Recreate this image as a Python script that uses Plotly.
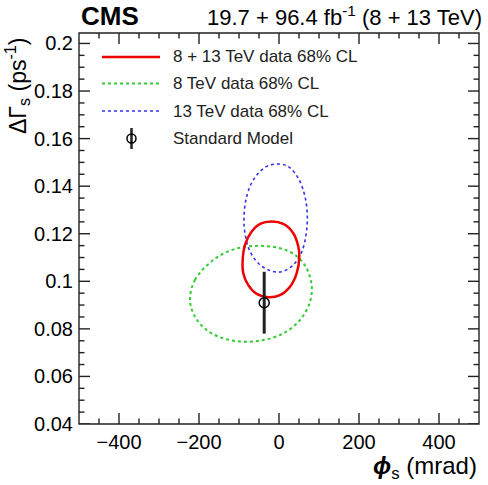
import plotly.graph_objects as go

# ---- data (phi_s in mrad, DeltaGamma_s in ps^-1) ----
comb_phi = [-18.3, 10.8, 35.8, 48.3, 50.8, 44.3, 27.5, 2.5, -26.8, -55.8, -76.8, -89.3, -90.8, -85.0, -68.3, -47.5, -18.3]
comb_dg = [0.1251, 0.1241, 0.1202, 0.1146, 0.1103, 0.1034, 0.0977, 0.0942, 0.0933, 0.0947, 0.0984, 0.1034, 0.1090, 0.1153, 0.1209, 0.1241, 0.1251]

run1_phi = [-222.5, -210, -164, -122.5, -81, -31, 11, 44, 69, 82, 76, 52.5, 11, -39, -89, -139, -181, -210, -222.5]
run1_dg = [0.0921, 0.1006, 0.1090, 0.1129, 0.1146, 0.1148, 0.1135, 0.1106, 0.1055, 0.0977, 0.0907, 0.0837, 0.0781, 0.0753, 0.0746, 0.0760, 0.0795, 0.0851, 0.0921]

run2_phi = [-5.8, 23.3, 48.3, 65, 70.8, 67.5, 56.8, 35.8, 6.8, -22.5, -51.8, -74.3, -85, -87.5, -80.8, -64.3, -35, -5.8]
run2_dg = [0.1493, 0.1482, 0.1433, 0.1356, 0.1272, 0.1195, 0.1124, 0.1069, 0.1040, 0.1045, 0.1076, 0.1132, 0.1202, 0.1272, 0.1356, 0.1426, 0.1479, 0.1493]

sm_phi = [-37.0]
sm_dg = [0.091]
sm_dg_err = [0.013]

legend_labels = ["8 + 13 TeV data 68% CL", "8 TeV data 68% CL", "13 TeV data 68% CL", "Standard Model"]

x_tickvals = [-400, -200, 0, 200, 400]
x_ticktext = ["\u2212400", "\u2212200", "0", "200", "400"]
y_tickvals = [0.04, 0.06, 0.08, 0.1, 0.12, 0.14, 0.16, 0.18, 0.2]
y_ticktext = ["0.04", "0.06", "0.08", "0.1", "0.12", "0.14", "0.16", "0.18", "0.2"]

FONT = "Liberation Sans, Arial, Helvetica, sans-serif"
AXC = "#222222"

fig = go.Figure()
fig.add_trace(go.Scatter(x=run1_phi, y=run1_dg, mode="lines",
                         line=dict(color="#33cc33", width=2, dash="dot", shape="spline", smoothing=1.0),
                         showlegend=False))
fig.add_trace(go.Scatter(x=run2_phi, y=run2_dg, mode="lines",
                         line=dict(color="#3333ee", width=1.6, dash="dot", shape="spline", smoothing=1.0),
                         showlegend=False))
fig.add_trace(go.Scatter(x=comb_phi, y=comb_dg, mode="lines",
                         line=dict(color="#ee0000", width=2.5, shape="spline", smoothing=1.0),
                         showlegend=False))
fig.add_trace(go.Scatter(x=sm_phi, y=sm_dg, mode="markers",
                         marker=dict(symbol="circle-open", size=10, color="black", line=dict(width=1.5)),
                         error_y=dict(type="data", array=sm_dg_err, color="#222222", thickness=3, width=0),
                         showlegend=False))

# ---- in-frame legend (paper coordinates) ----
def px(x):
    return (x - 79) / 400.0

def py(y):
    return (424 - y) / 391.0

rows = [57, 83.5, 111, 138.5]
styles = [dict(color="#ee0000", width=2.5),
          dict(color="#33cc33", width=2, dash="dot"),
          dict(color="#3333ee", width=1.6, dash="dot")]
shapes = []
for r, st in zip(rows[:3], styles):
    shapes.append(dict(type="line", xref="paper", yref="paper",
                       x0=px(102), x1=px(160), y0=py(r), y1=py(r), line=st))
shapes.append(dict(type="line", xref="paper", yref="paper",
                   x0=px(131.5), x1=px(131.5), y0=py(128), y1=py(149),
                   line=dict(color="#222222", width=2.5)))
shapes.append(dict(type="circle", xref="paper", yref="paper",
                   x0=px(127), x1=px(136), y0=py(134), y1=py(143),
                   line=dict(color="black", width=1.5), fillcolor="rgba(0,0,0,0)"))
# frame
shapes.append(dict(type="rect", xref="paper", yref="paper", x0=0, x1=1, y0=0, y1=1,
                   line=dict(color=AXC, width=1.4), fillcolor="rgba(0,0,0,0)", layer="above"))

# tick marks (ROOT style: inside, on all four sides)
TW = 1.4
x_major_len = 11 / 391.0
x_minor_len = 5.5 / 391.0
y_major_len = 11 / 400.0
y_minor_len = 5.5 / 400.0
for i in range(-9, 10):
    xv = i * 50
    ln = x_major_len if xv in x_tickvals else x_minor_len
    for base, sgn in ((0, 1), (1, -1)):
        shapes.append(dict(type="line", xref="x", yref="paper", x0=xv, x1=xv,
                           y0=base, y1=base + sgn * ln, line=dict(color=AXC, width=TW), layer="above"))
for i in range(0, 33):
    yv = round(0.04 + i * 0.005, 4)
    ln = y_major_len if any(abs(yv - t) < 1e-9 for t in y_tickvals) else y_minor_len
    for base, sgn in ((0, 1), (1, -1)):
        shapes.append(dict(type="line", xref="paper", yref="y", x0=base, x1=base + sgn * ln,
                           y0=yv, y1=yv, line=dict(color=AXC, width=TW), layer="above"))

annotations = []
for r, lab in zip(rows, legend_labels):
    annotations.append(dict(x=px(171), y=py(r), xref="paper", yref="paper", text=lab,
                            showarrow=False, xanchor="left", yanchor="middle",
                            font=dict(family=FONT, size=17, color="#222222")))

annotations.append(dict(x=px(79), y=py(16), xref="paper", yref="paper", text="<b>CMS</b>",
                        showarrow=False, xanchor="left", yanchor="middle",
                        font=dict(family=FONT, size=26, color="black")))
annotations.append(dict(x=px(484), y=py(16), xref="paper", yref="paper",
                        text="19.7 + 96.4 fb<sup>-1</sup> (8 + 13 TeV)",
                        showarrow=False, xanchor="right", yanchor="middle",
                        font=dict(family=FONT, size=22, color="black")))
annotations.append(dict(x=px(479), y=py(467), xref="paper", yref="paper",
                        text="<b><i>ϕ</i></b><sub>s</sub> (mrad)",
                        showarrow=False, xanchor="right", yanchor="middle",
                        font=dict(family=FONT, size=24, color="black")))
annotations.append(dict(x=px(17), y=py(86), xref="paper", yref="paper",
                        text="ΔΓ<sub>s</sub> (ps<sup>-1</sup>)", textangle=-90,
                        showarrow=False, xanchor="center", yanchor="middle",
                        font=dict(family=FONT, size=23, color="black")))

fig.update_layout(
    width=488, height=485,
    margin=dict(l=79, r=9, t=33, b=61),
    paper_bgcolor="white", plot_bgcolor="white",
    shapes=shapes, annotations=annotations, showlegend=False,
)
fig.update_xaxes(range=[-500, 500], tickmode="array", tickvals=x_tickvals, ticktext=x_ticktext,
                 showline=False, ticks="", showgrid=False, zeroline=False, ticklabelstandoff=4,
                 tickfont=dict(family=FONT, size=20, color="black"))
fig.update_yaxes(range=[0.04, 0.2044], tickmode="array", tickvals=y_tickvals, ticktext=y_ticktext,
                 showline=False, ticks="", showgrid=False, zeroline=False, ticklabelstandoff=5,
                 tickfont=dict(family=FONT, size=20, color="black"))

fig.write_html("out.html")
